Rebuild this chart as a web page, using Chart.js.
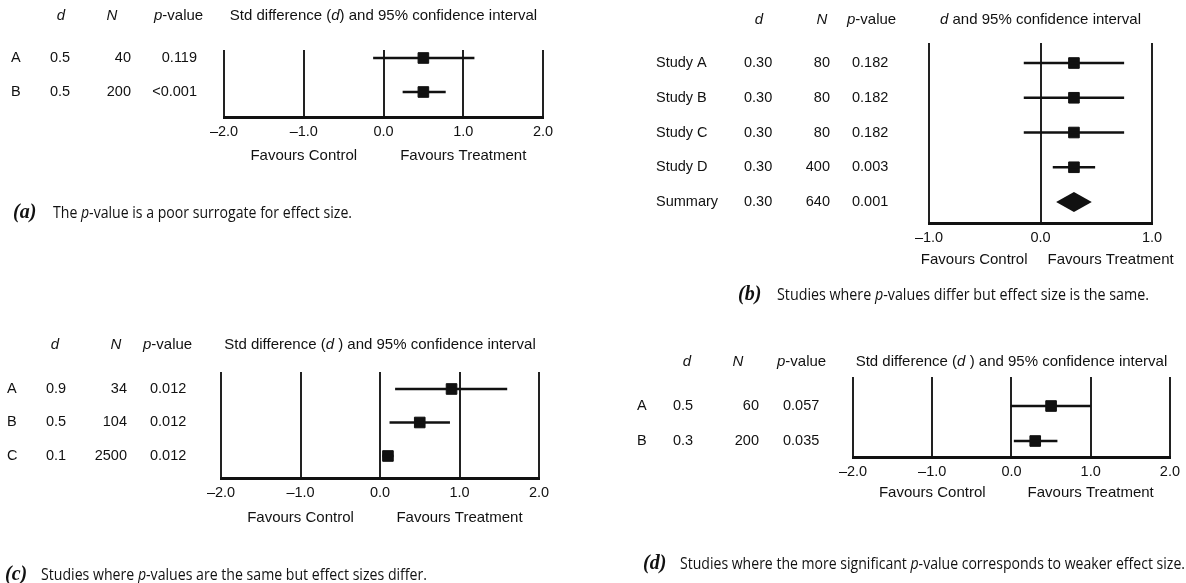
<!DOCTYPE html>
<html>
<head>
<title>p-value versus effect size</title>
<script src="https://cdn.jsdelivr.net/npm/chart.js"></script>
<style>
    body { margin: 0; background: #fff; }
    #wrap { position: relative; width: 1186px; height: 583px; }
    canvas { position: absolute; left: 0; top: 0; }
</style>
</head>
<body>
<div id="wrap">
    <canvas id="ca" width="1186" height="583"></canvas>
    <canvas id="cb" width="1186" height="583"></canvas>
    <canvas id="cc" width="1186" height="583"></canvas>
    <canvas id="cd" width="1186" height="583"></canvas>
</div>
<script>
    // (a) same d, different N
    var aStudies = ['A', 'B'];
    var aD = [0.5, 0.5];
    var aN = [40, 200];
    var aP = ['0.119', '<0.001'];
    var aLow = [-0.13, 0.24];
    var aHigh = [1.14, 0.78];

    // (b) four studies plus summary
    var bStudies = ['Study A', 'Study B', 'Study C', 'Study D'];
    var bD = [0.30, 0.30, 0.30, 0.30];
    var bN = [80, 80, 80, 400];
    var bP = ['0.182', '0.182', '0.182', '0.003'];
    var bLow = [-0.15, -0.15, -0.15, 0.11];
    var bHigh = [0.75, 0.75, 0.75, 0.49];
    var bSumLabel = 'Summary';
    var bSumD = 0.30;
    var bSumN = 640;
    var bSumP = '0.001';
    var bSumLow = 0.14;
    var bSumHigh = 0.46;

    // (c) same p, different d
    var cStudies = ['A', 'B', 'C'];
    var cD = [0.9, 0.5, 0.1];
    var cN = [34, 104, 2500];
    var cP = ['0.012', '0.012', '0.012'];
    var cLow = [0.19, 0.12, 0.03];
    var cHigh = [1.60, 0.88, 0.17];

    // (d) smaller p, weaker d
    var dStudies = ['A', 'B'];
    var dD = [0.5, 0.3];
    var dN = [60, 200];
    var dP = ['0.057', '0.035'];
    var dLow = [-0.01, 0.03];
    var dHigh = [1.00, 0.58];

    var INK = '#111';
    var SANS = '"Liberation Sans", Arial, sans-serif';
    var F = '14.5px ' + SANS, FI = 'italic 14.5px ' + SANS;
    var HF = '15px ' + SANS, HFI = 'italic 15px ' + SANS;
    var CAP = '17px "Open Sans", sans-serif', CAPI = 'italic 17px "Open Sans", sans-serif';
    var TAG = 'bold italic 20px "Liberation Serif", serif';

    var stdTitle = [['Std difference (', HF], ['d', HFI], [') and 95% confidence interval', HF]];
    var stdTitle2 = [['Std difference (', HF], ['d', HFI], [' ) and 95% confidence interval', HF]];

    var panels = [
        {id: 'ca', studies: aStudies, d: aD, n: aN, p: aP, low: aLow, high: aHigh, digits: 1,
         box: [224, 50, 543, 117], xMin: -2, xMax: 2, yMin: -0.235, yMax: 1.735,
         col: {label: 11, d: 50, n: 131, p: 197, pAlign: 'right', hd: 61, hn: 112, hp: 154, headY: 16},
         title: stdTitle, favY: 156, fav: [[-1, 'center', 0], [1, 'center', 0]],
         cap: {tag: '(a)', tagX: 13, x: 53, w: 299, y: 213,
               parts: [['The ', CAP], ['p', CAPI], ['-value is a poor surrogate for effect size.', CAP]]}},
        {id: 'cb', studies: bStudies, d: bD, n: bN, p: bP, low: bLow, high: bHigh, digits: 2,
         box: [929, 43, 1152, 223], xMin: -1, xMax: 1, yMin: -0.576, yMax: 4.604,
         col: {label: 656, d: 744, n: 830, p: 852, pAlign: 'left', hd: 759, hn: 822, hp: 847, headY: 20},
         title: [['d', HFI], [' and 95% confidence interval', HF]],
         favY: 260, fav: [[0, 'right', -13], [0, 'left', 7]],
         summary: true,
         cap: {tag: '(b)', tagX: 738, x: 777, w: 372, y: 295,
               parts: [['Studies where ', CAP], ['p', CAPI], ['-values differ but effect size is the same.', CAP]]}},
        {id: 'cc', studies: cStudies, d: cD, n: cN, p: cP, low: cLow, high: cHigh, digits: 1,
         box: [221, 372, 539, 478], xMin: -2, xMax: 2, yMin: -0.507, yMax: 2.657,
         col: {label: 7, d: 46, n: 127, p: 150, pAlign: 'left', hd: 55, hn: 116, hp: 143, headY: 345},
         title: stdTitle2, favY: 518, fav: [[-1, 'center', 0], [1, 'center', 0]],
         cap: {tag: '(c)', tagX: 5, x: 41, w: 386, y: 575,
               parts: [['Studies where ', CAP], ['p', CAPI], ['-values are the same but effect sizes differ.', CAP]]}},
        {id: 'cd', studies: dStudies, d: dD, n: dN, p: dP, low: dLow, high: dHigh, digits: 1,
         box: [853, 377, 1171, 457], xMin: -2, xMax: 2, yMin: -0.829, yMax: 1.457,
         col: {label: 637, d: 673, n: 759, p: 783, pAlign: 'left', hd: 687, hn: 738, hp: 777, headY: 362},
         title: stdTitle2, favY: 493, fav: [[-1, 'center', 0], [1, 'center', 0]],
         cap: {tag: '(d)', tagX: 643, x: 680, w: 505, y: 564,
               parts: [['Studies where the more significant ', CAP], ['p', CAPI], ['-value corresponds to weaker effect size.', CAP]]}}
    ];

    // draws a run of differently styled pieces; fitW squeezes it to a width
    function drawRuns(ctx, parts, x, y, align, fitW) {
        var w = 0;
        parts.forEach(function (p) { ctx.font = p[1]; w += ctx.measureText(p[0]).width; });
        var s = fitW ? fitW / w : 1;
        var x0 = align === 'center' ? x - w * s / 2 : (align === 'right' ? x - w * s : x);
        ctx.save();
        ctx.translate(x0, y);
        ctx.scale(s, 1);
        ctx.textAlign = 'left';
        ctx.textBaseline = 'middle';
        ctx.fillStyle = INK;
        var cx = 0;
        parts.forEach(function (p) {
            ctx.font = p[1];
            ctx.fillText(p[0], cx, 0);
            cx += ctx.measureText(p[0]).width;
        });
        ctx.restore();
    }

    function textPlugin(P) {
        return {
            id: 'forestText',
            afterDatasetsDraw: function (chart) {
                if (!P.summary) return;
                var ctx = chart.ctx, xs = chart.scales.x, ys = chart.scales.y;
                var yc = ys.getPixelForValue(P.studies.length);
                ctx.save();
                ctx.fillStyle = INK;
                ctx.beginPath();
                ctx.moveTo(xs.getPixelForValue(bSumLow), yc);
                ctx.lineTo(xs.getPixelForValue(bSumD), yc - 10);
                ctx.lineTo(xs.getPixelForValue(bSumHigh), yc);
                ctx.lineTo(xs.getPixelForValue(bSumD), yc + 10);
                ctx.closePath();
                ctx.fill();
                ctx.restore();
            },
            afterDraw: function (chart) {
                var ctx = chart.ctx, xs = chart.scales.x, ys = chart.scales.y, c = P.col;
                // column headers
                drawRuns(ctx, [['d', HFI]], c.hd, c.headY, 'center');
                drawRuns(ctx, [['N', HFI]], c.hn, c.headY, 'center');
                drawRuns(ctx, [['p', HFI], ['-value', HF]], c.hp, c.headY, 'left');
                drawRuns(ctx, P.title, (chart.chartArea.left + chart.chartArea.right) / 2, c.headY, 'center');
                // table rows
                var rows = P.studies.map(function (s, i) {
                    return [s, P.d[i].toFixed(P.digits), String(P.n[i]), P.p[i]];
                });
                if (P.summary) rows.push([bSumLabel, bSumD.toFixed(P.digits), String(bSumN), bSumP]);
                rows.forEach(function (r, i) {
                    var y = ys.getPixelForValue(i);
                    drawRuns(ctx, [[r[0], F]], c.label, y, 'left');
                    drawRuns(ctx, [[r[1], F]], c.d, y, 'left');
                    drawRuns(ctx, [[r[2], F]], c.n, y, 'right');
                    drawRuns(ctx, [[r[3], F]], c.p, y, c.pAlign);
                });
                // favours labels
                drawRuns(ctx, [['Favours Control', HF]], xs.getPixelForValue(P.fav[0][0]) + P.fav[0][2], P.favY, P.fav[0][1]);
                drawRuns(ctx, [['Favours Treatment', HF]], xs.getPixelForValue(P.fav[1][0]) + P.fav[1][2], P.favY, P.fav[1][1]);
                // caption
                drawRuns(ctx, [[P.cap.tag, TAG]], P.cap.tagX, P.cap.y, 'left');
                drawRuns(ctx, P.cap.parts, P.cap.x, P.cap.y, 'left', P.cap.w);
            }
        };
    }

    function tickFmt(v) {
        return v < 0 ? '\u2013' + (-v).toFixed(1) : v.toFixed(1);
    }

    panels.forEach(function (P) {
        var datasets = P.studies.map(function (s, i) {
            return {
                label: s + ' CI',
                data: [{x: P.low[i], y: i}, {x: P.high[i], y: i}],
                showLine: true,
                borderColor: INK,
                borderWidth: 2.5,
                pointRadius: 0
            };
        });
        datasets.push({
            label: 'd',
            data: P.d.map(function (v, i) { return {x: v, y: i}; }),
            pointStyle: 'rect',
            pointRadius: 7.5,
            backgroundColor: INK,
            borderColor: INK,
            borderWidth: 1
        });

        new Chart(document.getElementById(P.id), {
            type: 'scatter',
            data: {datasets: datasets},
            options: {
                responsive: false,
                animation: false,
                events: [],
                layout: {
                    padding: {
                        left: P.box[0],
                        top: P.box[1],
                        right: 1186 - P.box[2],
                        bottom: 583 - P.box[3] - 30
                    }
                },
                scales: {
                    x: {
                        type: 'linear',
                        min: P.xMin,
                        max: P.xMax,
                        ticks: {
                            stepSize: 1,
                            padding: 6,
                            color: INK,
                            font: {family: SANS, size: 14.5},
                            maxRotation: 0,
                            autoSkip: false,
                            callback: tickFmt
                        },
                        grid: {color: '#222', lineWidth: 2, drawTicks: false},
                        border: {display: true, color: INK, width: 3},
                        afterFit: function (s) { s.height = 30; }
                    },
                    y: {
                        type: 'linear',
                        display: false,
                        reverse: true,
                        min: P.yMin,
                        max: P.yMax
                    }
                },
                plugins: {
                    legend: {display: false},
                    tooltip: {enabled: false}
                }
            },
            plugins: [textPlugin(P)]
        });
    });
</script>
</body>
</html>
